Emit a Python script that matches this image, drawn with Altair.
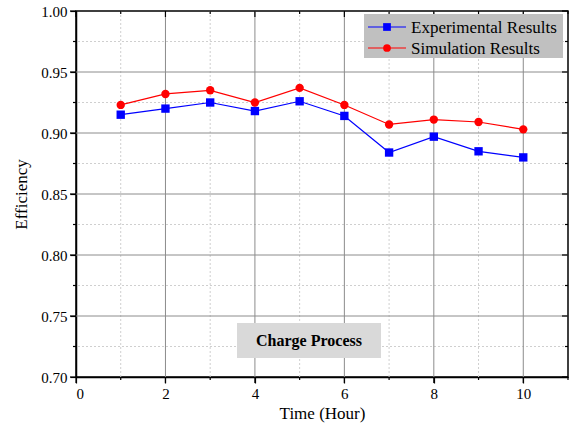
import altair as alt
import pandas as pd

hours = [1, 2, 3, 4, 5, 6, 7, 8, 9, 10]
experimental = [0.915, 0.920, 0.925, 0.918, 0.926, 0.914, 0.884, 0.897, 0.885, 0.880]
simulation = [0.923, 0.932, 0.935, 0.925, 0.937, 0.923, 0.907, 0.911, 0.909, 0.903]
series_names = ["Experimental Results", "Simulation Results"]
series_colors = ["#0000ff", "#ff0000"]
x_major = [0, 2, 4, 6, 8, 10]
x_minor = [1, 3, 5, 7, 9, 11]
y_major = [0.70, 0.75, 0.80, 0.85, 0.90, 0.95, 1.00]
y_minor = [0.725, 0.775, 0.825, 0.875, 0.925, 0.975]
box_label = "Charge Process"

df = pd.DataFrame({
    "Hour": hours * 2,
    "Efficiency": experimental + simulation,
    "Series": [series_names[0]] * len(hours) + [series_names[1]] * len(hours),
})

FONT = "Liberation Serif"
W, H = 492, 366

xs = alt.Scale(domain=[0, 11], nice=False, zero=False)
ys = alt.Scale(domain=[0.70, 1.00], nice=False, zero=False)
axis_style = dict(
    grid=False, tickSize=6,
    labelFont=FONT, labelFontSize=15, labelColor="black", labelPadding=3,
    titleFont=FONT, titleFontSize=17, titleFontWeight="normal", titleColor="black",
    domainColor="black", domainWidth=1.5, tickColor="black", tickWidth=1.2,
)
x_axis = alt.Axis(title="Time (Hour)", values=x_major, titlePadding=4, **axis_style)
y_axis = alt.Axis(title="Efficiency", values=y_major, format=".2f", titlePadding=10, **axis_style)


def X(field):
    return alt.X(field, type="quantitative", scale=xs, axis=x_axis)


def Y(field):
    return alt.Y(field, type="quantitative", scale=ys, axis=y_axis)


color_enc = alt.Color("Series:N", scale=alt.Scale(domain=series_names, range=series_colors), legend=None)
shape_enc = alt.Shape("Series:N", scale=alt.Scale(domain=series_names, range=["square", "circle"]), legend=None)

# grid lines from tick arrays
gx_minor = alt.Chart(pd.DataFrame({"v": x_minor[:-1]})).mark_rule(color="#cfcfcf", strokeDash=[2, 2], strokeWidth=1).encode(x=X("v"))
gy_minor = alt.Chart(pd.DataFrame({"v": y_minor})).mark_rule(color="#cfcfcf", strokeDash=[2, 2], strokeWidth=1).encode(y=Y("v"))
gx_major = alt.Chart(pd.DataFrame({"v": x_major[1:]})).mark_rule(color="#8c8c8c", strokeWidth=1).encode(x=X("v"))
gy_major = alt.Chart(pd.DataFrame({"v": y_major[1:-1]})).mark_rule(color="#8c8c8c", strokeWidth=1).encode(y=Y("v"))

# minor ticks outward (bottom/left) and inward ticks (top/right)
tick_parts = []
for vals, ln in ((x_minor, 3), (x_major, 6)):
    d = pd.DataFrame({"v": vals})
    tick_parts.append(alt.Chart(d).mark_rule(color="black", strokeWidth=1.2, clip=False).encode(
        x=X("v"), y=alt.value(H), y2=alt.value(H + ln)))
    tick_parts.append(alt.Chart(d).mark_rule(color="black", strokeWidth=1.2).encode(
        x=X("v"), y=alt.value(0), y2=alt.value(ln)))
for vals, ln in ((y_minor, 3), (y_major, 6)):
    d = pd.DataFrame({"v": vals})
    tick_parts.append(alt.Chart(d).mark_rule(color="black", strokeWidth=1.2, clip=False).encode(
        y=Y("v"), x=alt.value(0), x2=alt.value(-ln)))
    tick_parts.append(alt.Chart(d).mark_rule(color="black", strokeWidth=1.2).encode(
        y=Y("v"), x=alt.value(W), x2=alt.value(W - ln)))

lines = alt.Chart(df).mark_line(strokeWidth=1.2).encode(x=X("Hour"), y=Y("Efficiency"), color=color_enc)
points = alt.Chart(df).mark_point(filled=True, opacity=1, size=70).encode(
    x=X("Hour"), y=Y("Efficiency"), color=color_enc, shape=shape_enc)

# Manual legend (pixel positions in plot area)
leg_bg = alt.Chart(pd.DataFrame({"a": [0]})).mark_rect(color="#c0c0c0").encode(
    x=alt.value(288), x2=alt.value(487), y=alt.value(3), y2=alt.value(47))
leg_parts = []
for i, name in enumerate(series_names):
    yy = 16 + i * 21
    sub = pd.DataFrame({"Series": [name]})
    leg_parts.append(alt.Chart(sub).mark_rule(strokeWidth=1.2).encode(
        x=alt.value(292), x2=alt.value(330), y=alt.value(yy), color=color_enc))
    leg_parts.append(alt.Chart(sub).mark_point(filled=True, opacity=1, size=60).encode(
        x=alt.value(311), y=alt.value(yy), color=color_enc, shape=shape_enc))
    leg_parts.append(alt.Chart(sub).mark_text(align="left", baseline="middle", font=FONT, fontSize=17, color="black").encode(
        x=alt.value(335), y=alt.value(yy + 1), text="Series:N"))

box_bg = alt.Chart(pd.DataFrame({"a": [0]})).mark_rect(color="#d9d9d9").encode(
    x=alt.value(161), x2=alt.value(305), y=alt.value(312), y2=alt.value(347))
box_txt = alt.Chart(pd.DataFrame({"t": [box_label]})).mark_text(
    font=FONT, fontSize=16, fontWeight="bold", color="black", align="center", baseline="middle"
).encode(x=alt.value(233), y=alt.value(330), text="t:N")

chart = alt.layer(
    gx_minor, gy_minor, gx_major, gy_major, lines, points, *tick_parts,
    leg_bg, *leg_parts, box_bg, box_txt
).properties(
    width=W, height=H,
    background="white",
    padding={"left": 76, "top": 11, "right": 4, "bottom": 50},
    autosize=alt.AutoSizeParams(type="none"),
).configure_view(stroke="black", strokeWidth=1.5)

chart.save("out.html", embed_options={"renderer": "svg", "actions": False})
